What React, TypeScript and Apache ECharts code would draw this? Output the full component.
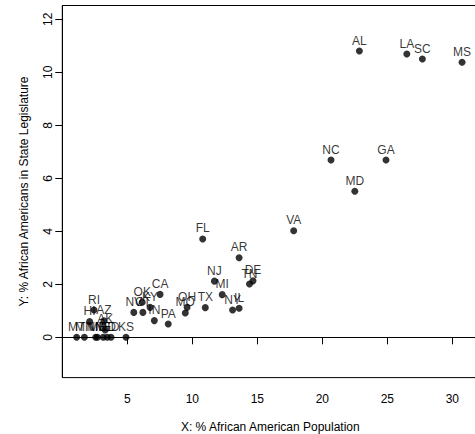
import React, { useEffect, useRef } from "react";
import * as echarts from "echarts";

const states = [
  "AL", "LA", "SC", "MS", "NC", "GA", "MD", "VA", "FL", "AR",
  "NJ", "TN", "DE", "MI", "TX", "NY", "IL", "OH", "MO", "CA",
  "OK", "KY", "NV", "CT", "IN", "PA", "RI", "HI", "AZ", "AK",
  "MT", "MN", "NM", "ME", "NE", "ND", "SD", "KS",
];
const pctPopulation = [
  22.85, 26.5, 27.7, 30.75, 20.67, 24.9, 22.5, 17.8, 10.8, 13.6,
  11.7, 14.4, 14.67, 12.3, 11.0, 13.1, 13.6, 9.6, 9.46, 7.52,
  6.15, 6.75, 5.5, 6.2, 7.08, 8.15, 2.44, 2.1, 3.2, 3.3,
  1.1, 1.7, 2.57, 2.7, 3.15, 3.46, 3.75, 4.9,
];
const pctLegislature = [
  10.8, 10.69, 10.5, 10.38, 6.69, 6.69, 5.51, 4.02, 3.71, 3.0,
  2.12, 2.01, 2.13, 1.61, 1.12, 1.03, 1.1, 1.13, 0.92, 1.62,
  1.32, 1.13, 0.94, 0.94, 0.63, 0.5, 1.03, 0.6, 0.62, 0.28,
  0, 0, 0, 0, 0, 0, 0, 0,
];
const xTicks = [5, 10, 15, 20, 25, 30];
const yTicks = [0, 2, 4, 6, 8, 10, 12];

const FONT = "Liberation Sans, Arial, Helvetica, sans-serif";

export default function App() {
  const ref = useRef<HTMLDivElement>(null);
  useEffect(() => {
    if (!ref.current) return;
    const chart = echarts.init(ref.current, undefined, { renderer: "svg" });
    const data = states.map((s, i) => [pctPopulation[i], pctLegislature[i], s]);
    chart.setOption({
      animation: false,
      backgroundColor: "#fff",
      grid: {
        left: 62.3,
        top: 5.5,
        width: 416,
        height: 372.1,
        containLabel: false,
        outerBoundsMode: "none",
        show: true,
        borderColor: "#000",
        borderWidth: 1,
        backgroundColor: "transparent",
      },
      xAxis: {
        type: "value",
        min: 0,
        max: 32,
        name: "X: % African American Population",
        nameLocation: "middle",
        nameGap: 43,
        nameTextStyle: { fontFamily: FONT, fontSize: 12, color: "#000" },
        axisLine: { show: true, lineStyle: { color: "#000", width: 1 } },
        axisTick: { show: true, length: 7, inside: false, customValues: xTicks, lineStyle: { color: "#000" } },
        axisLabel: { customValues: xTicks, margin: 15, fontFamily: FONT, fontSize: 12, color: "#000" },
        splitLine: { show: false },
      },
      yAxis: {
        type: "value",
        min: -1.52,
        max: 12.52,
        name: "Y: % African Americans in State Legislature",
        nameLocation: "middle",
        nameGap: 32,
        nameTextStyle: { fontFamily: FONT, fontSize: 12, color: "#000" },
        axisLine: { show: true, lineStyle: { color: "#000", width: 1 } },
        axisTick: { show: true, length: 7, inside: false, customValues: yTicks, lineStyle: { color: "#000" } },
        axisLabel: { customValues: yTicks, rotate: 90, margin: 8, fontFamily: FONT, fontSize: 12, color: "#000" },
        splitLine: { show: false },
      },
      series: [
        {
          type: "scatter",
          data,
          symbol: "circle",
          symbolSize: 7,
          itemStyle: { color: "#000" },
          label: {
            show: true,
            position: "top",
            distance: 1,
            formatter: (p: any) => p.data[2],
            fontFamily: FONT,
            fontSize: 12,
            color: "#000",
          },
          labelLayout: { hideOverlap: false },
        },
      ],
    });
    return () => chart.dispose();
  }, []);
  return (
    <div
      ref={ref}
      style={{ position: "fixed", left: 0, top: 0, width: 475, height: 434 }}
    />
  );
}
